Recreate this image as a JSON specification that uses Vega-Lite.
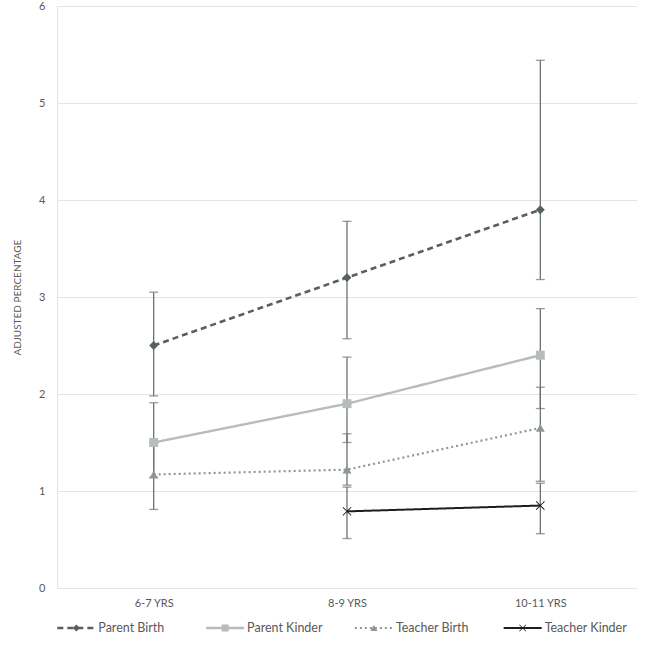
{
  "$schema": "https://vega.github.io/schema/vega-lite/v6.json",
  "padding": {"left": 12, "top": 0, "right": 0, "bottom": 0},
  "config": {
    "view": {"stroke": "transparent"},
    "font": "Lato",
    "concat": {"spacing": 10},
    "axis": {"labelColor": "#595959", "titleColor": "#595959", "gridColor": "#e4e4e4", "domainColor": "#e4e4e4", "ticks": false, "domain": false},
    "axisX": {"grid": false, "domain": false, "gridOpacity": 0}
  },
  "datasets": {
    "main": [
      {"series": "Parent Birth", "age": "6-7 YRS", "value": 2.5, "lo": 1.98, "hi": 3.05},
      {"series": "Parent Birth", "age": "8-9 YRS", "value": 3.2, "lo": 2.57, "hi": 3.78},
      {"series": "Parent Birth", "age": "10-11 YRS", "value": 3.9, "lo": 3.18, "hi": 5.44},
      {"series": "Parent Kinder", "age": "6-7 YRS", "value": 1.5, "lo": 1.14, "hi": 1.91},
      {"series": "Parent Kinder", "age": "8-9 YRS", "value": 1.9, "lo": 1.5, "hi": 2.38},
      {"series": "Parent Kinder", "age": "10-11 YRS", "value": 2.4, "lo": 1.85, "hi": 2.88},
      {"series": "Teacher Birth", "age": "6-7 YRS", "value": 1.17, "lo": 0.81, "hi": 1.5},
      {"series": "Teacher Birth", "age": "8-9 YRS", "value": 1.22, "lo": 1.06, "hi": 1.59},
      {"series": "Teacher Birth", "age": "10-11 YRS", "value": 1.65, "lo": 1.1, "hi": 2.07},
      {"series": "Teacher Kinder", "age": "8-9 YRS", "value": 0.79, "lo": 0.51, "hi": 1.04},
      {"series": "Teacher Kinder", "age": "10-11 YRS", "value": 0.85, "lo": 0.56, "hi": 1.08}
    ],
    "legend": [
      {"series": "Parent Birth", "grp": "legend"},
      {"series": "Parent Kinder", "grp": "legend"},
      {"series": "Teacher Birth", "grp": "legend"},
      {"series": "Teacher Kinder", "grp": "legend"}
    ]
  },
  "vconcat": [
    {
      "width": 580,
      "height": 582,
      "view": {"stroke": null},
      "data": {"name": "main"},
      "encoding": {
        "x": {"field": "age", "type": "nominal", "sort": ["6-7 YRS", "8-9 YRS", "10-11 YRS"], "scale": {"type": "point", "padding": 0.5},
              "axis": {"title": null, "labelAngle": 0, "domain": false, "grid": false, "gridOpacity": 0, "labelFontSize": 11, "labelPadding": 9}}
      },
      "layer": [
        {
          "mark": {"type": "errorbar", "ticks": true, "color": "#6b7370", "thickness": 1.3, "size": 9},
          "encoding": {
            "y": {"field": "lo", "type": "quantitative", "scale": {"domain": [0, 6], "nice": false},
                  "axis": {"title": "ADJUSTED PERCENTAGE", "titleFontSize": 10, "titleFontWeight": "normal", "titlePadding": 16, "labelFontSize": 11, "labelPadding": 12, "values": [0, 1, 2, 3, 4, 5, 6], "labelOverlap": false, "domain": true, "domainColor": "#e4e4e4", "grid": true, "gridColor": "#e4e4e4"}},
            "y2": {"field": "hi"}
          }
        },
        {
          "mark": {"type": "line"},
          "encoding": {
            "y": {"field": "value", "type": "quantitative", "scale": {"domain": [0, 6], "nice": false},
                  "axis": {"title": "ADJUSTED PERCENTAGE", "titleFontSize": 10, "titleFontWeight": "normal", "titlePadding": 16, "labelFontSize": 11, "labelPadding": 12, "values": [0, 1, 2, 3, 4, 5, 6], "labelOverlap": false, "domain": true, "domainColor": "#e4e4e4", "grid": true, "gridColor": "#e4e4e4"}},
            "color": {"field": "series", "type": "nominal", "legend": null,
                      "scale": {"domain": ["Parent Birth", "Parent Kinder", "Teacher Birth", "Teacher Kinder"], "range": ["#56605d", "#b6bdba", "#8e9793", "#1e1e1e"]}},
            "strokeDash": {"field": "series", "type": "nominal", "legend": null,
                      "scale": {"domain": ["Parent Birth", "Parent Kinder", "Teacher Birth", "Teacher Kinder"], "range": [[6, 4], [1, 0], [2, 3], [1, 0]]}},
            "strokeWidth": {"field": "series", "type": "nominal", "legend": null,
                      "scale": {"domain": ["Parent Birth", "Parent Kinder", "Teacher Birth", "Teacher Kinder"], "range": [2.6, 2, 2, 2.4]}}
          }
        },
        {
          "mark": {"type": "point", "filled": true, "opacity": 1, "size": 80},
          "encoding": {
            "y": {"field": "value", "type": "quantitative", "scale": {"domain": [0, 6], "nice": false},
                  "axis": {"title": "ADJUSTED PERCENTAGE", "titleFontSize": 10, "titleFontWeight": "normal", "titlePadding": 16, "labelFontSize": 11, "labelPadding": 12, "values": [0, 1, 2, 3, 4, 5, 6], "labelOverlap": false, "domain": true, "domainColor": "#e4e4e4", "grid": true, "gridColor": "#e4e4e4"}},
            "color": {"field": "series", "type": "nominal", "legend": null,
                      "scale": {"domain": ["Parent Birth", "Parent Kinder", "Teacher Birth", "Teacher Kinder"], "range": ["#56605d", "#b6bdba", "#8e9793", "#1e1e1e"]}},
            "shape": {"field": "series", "type": "nominal", "legend": null,
                      "scale": {"domain": ["Parent Birth", "Parent Kinder", "Teacher Birth", "Teacher Kinder"], "range": ["diamond", "square", "triangle-up", "M-1,-0.85L-0.85,-1L0,-0.15L0.85,-1L1,-0.85L0.15,0L1,0.85L0.85,1L0,0.15L-0.85,1L-1,0.85L-0.15,0Z"]}}
          }
        }
      ]
    },
    {
      "width": 485,
      "height": 20,
      "view": {"stroke": null},
      "data": {"name": "legend"},
      "encoding": {
        "x": {"field": "series", "type": "nominal", "sort": ["Parent Birth", "Parent Kinder", "Teacher Birth", "Teacher Kinder"], "scale": {"type": "point", "padding": 0.13}, "axis": null},
        "y": {"field": "grp", "type": "nominal", "axis": null}
      },
      "layer": [
        {
          "mark": {"type": "rule", "xOffset": -19, "x2Offset": 19},
          "encoding": {
            "x2": {"field": "series"},
            "color": {"field": "series", "type": "nominal", "legend": null,
                      "scale": {"domain": ["Parent Birth", "Parent Kinder", "Teacher Birth", "Teacher Kinder"], "range": ["#56605d", "#b6bdba", "#8e9793", "#1e1e1e"]}},
            "strokeDash": {"field": "series", "type": "nominal", "legend": null,
                      "scale": {"domain": ["Parent Birth", "Parent Kinder", "Teacher Birth", "Teacher Kinder"], "range": [[6, 4], [1, 0], [2, 3], [1, 0]]}},
            "strokeWidth": {"field": "series", "type": "nominal", "legend": null,
                      "scale": {"domain": ["Parent Birth", "Parent Kinder", "Teacher Birth", "Teacher Kinder"], "range": [2.6, 2, 2, 2.4]}}
          }
        },
        {
          "mark": {"type": "point", "filled": true, "opacity": 1, "size": 50},
          "encoding": {
            "color": {"field": "series", "type": "nominal", "legend": null,
                      "scale": {"domain": ["Parent Birth", "Parent Kinder", "Teacher Birth", "Teacher Kinder"], "range": ["#56605d", "#b6bdba", "#8e9793", "#1e1e1e"]}},
            "shape": {"field": "series", "type": "nominal", "legend": null,
                      "scale": {"domain": ["Parent Birth", "Parent Kinder", "Teacher Birth", "Teacher Kinder"], "range": ["diamond", "square", "triangle-up", "M-1,-0.85L-0.85,-1L0,-0.15L0.85,-1L1,-0.85L0.15,0L1,0.85L0.85,1L0,0.15L-0.85,1L-1,0.85L-0.15,0Z"]}}
          }
        },
        {
          "mark": {"type": "text", "align": "left", "baseline": "middle", "dx": 22, "fontSize": 12.5, "color": "#595959"},
          "encoding": {"text": {"field": "series", "type": "nominal"}}
        }
      ]
    }
  ]
}
